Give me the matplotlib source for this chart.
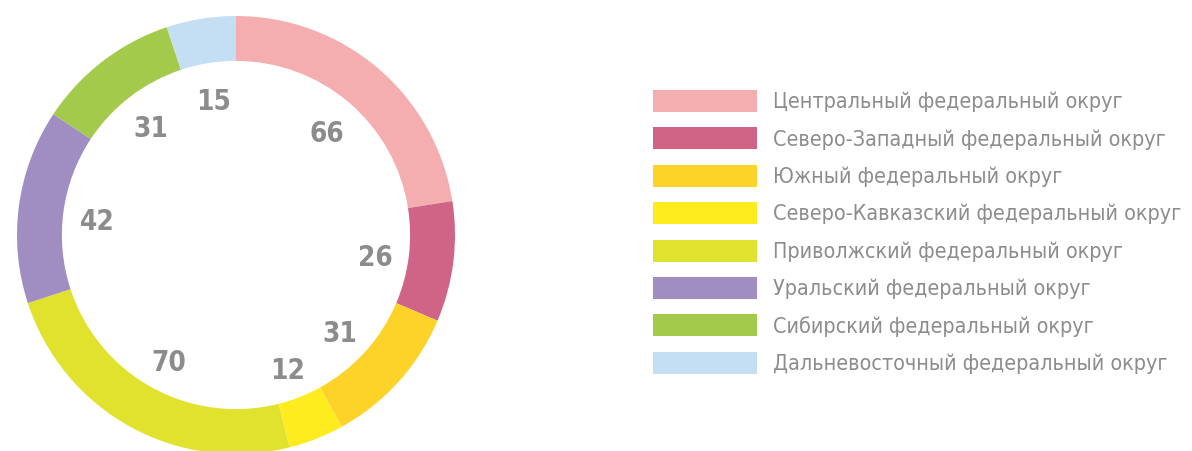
import matplotlib
matplotlib.use("Agg")
import matplotlib.pyplot as plt
from matplotlib.patches import Rectangle
from matplotlib import font_manager
import numpy as np

regions = ["Центральный федеральный округ",
           "Северо-Западный федеральный округ",
           "Южный федеральный округ",
           "Северо-Кавказский федеральный округ",
           "Приволжский федеральный округ",
           "Уральский федеральный округ",
           "Сибирский федеральный округ",
           "Дальневосточный федеральный округ"]
values = [66, 26, 31, 12, 70, 42, 31, 15]
colors = ["#F5AEAF", "#D06486", "#FDD32A", "#FEEC1E", "#E1E22E", "#A08EC2", "#A4CA4C", "#C4DFF3"]

names = {f.name for f in font_manager.fontManager.ttflist}
fam = "Liberation Sans Narrow" if "Liberation Sans Narrow" in names else "DejaVu Sans"
stretch = "normal" if fam == "Liberation Sans Narrow" else "condensed"
txtcol = "#8C8C8C"

W, H = 1192, 452
fig = plt.figure(figsize=(W / 100, H / 100), dpi=100)
fig.patch.set_facecolor("white")

cx, cy, R = 236, 236, 219
ax = fig.add_axes([(cx - R) / W, (H - cy - R) / H, 2 * R / W, 2 * R / H])
wedges, _ = ax.pie(values, colors=colors, startangle=90, counterclock=False,
                   radius=1.0, wedgeprops=dict(width=0.205, linewidth=0))
ax.set_xlim(-1, 1)
ax.set_ylim(-1, 1)
ax.set_aspect("equal")
ax.axis("off")

total = sum(values)
cum = 0
for v in values:
    mid = (cum + v / 2) / total
    ang = np.deg2rad(90 - 360 * mid)
    r = 0.64
    ax.text(r * np.cos(ang), r * np.sin(ang) - 0.02, str(v), ha="center", va="center",
            fontsize=20, fontweight="bold", color=txtcol, family=fam, stretch=stretch)
    cum += v

# legend
x0, pw, ph = 653, 104, 22
y_first, step = 102, 37.4
for i, (name, c) in enumerate(zip(regions, colors)):
    yc = y_first + i * step
    fig.add_artist(Rectangle((x0 / W, (H - yc - ph / 2) / H), pw / W, ph / H,
                             transform=fig.transFigure, facecolor=c, edgecolor="none"))
    fig.text(773 / W, (H - yc) / H, name, ha="left", va="center", fontsize=15.4,
             color=txtcol, family=fam, stretch=stretch)

fig.savefig("out.png", dpi=100, facecolor="white")
